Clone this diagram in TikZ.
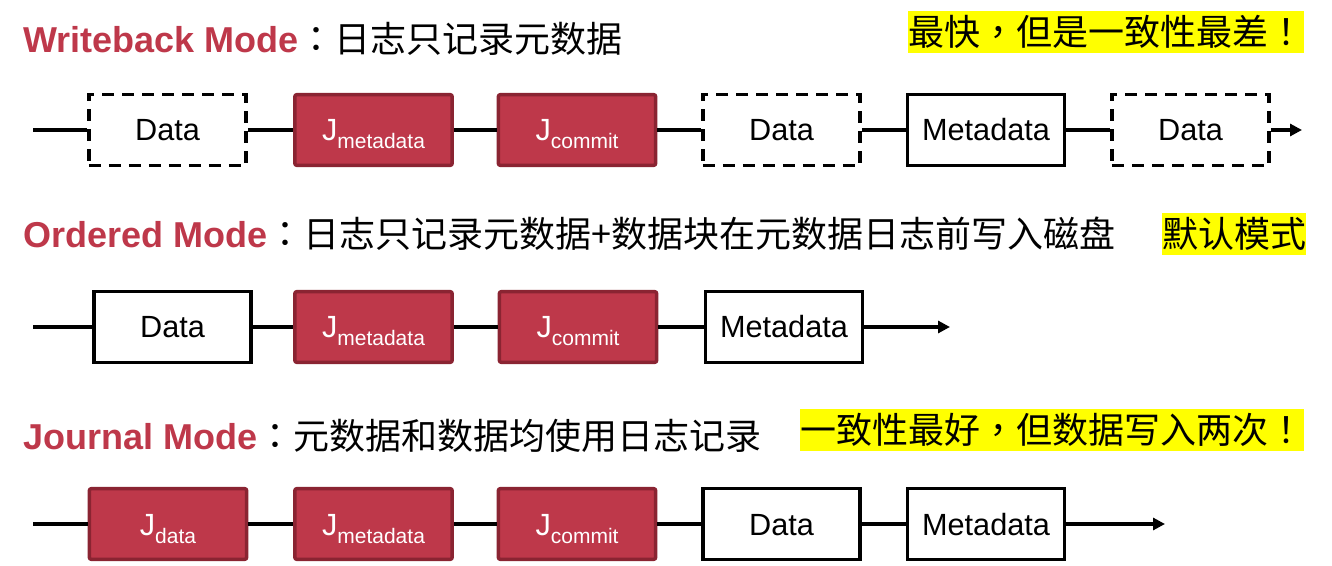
\documentclass[tikz,border=0pt]{standalone}
\usepackage{fontspec}
\setmainfont{Liberation Sans}
\newfontfamily\cjk{Noto Sans CJK SC}
\newfontfamily\cjkp{Noto Sans CJK TC}
\usepackage{tikz}
\usetikzlibrary{arrows, arrows.meta}
\definecolor{jred}{RGB}{190,56,74}
\definecolor{jredline}{RGB}{138,36,50}
\definecolor{hiyel}{RGB}{255,255,0}
\tikzstyle{blk}=[draw, line width=2.6pt, minimum width=118pt, minimum height=53pt, inner sep=0pt, text height=16.5pt, text depth=0pt, font=\fontsize{23}{27}\selectfont]
\tikzstyle{dblk}=[blk, dash pattern=on 9pt off 6pt]
\tikzstyle{jblk}=[blk, draw=jredline, fill=jred, text=white, rounded corners=1.5pt]
\tikzstyle{conn}=[line width=3pt]
\tikzstyle{ttl}=[anchor=base west, inner sep=0pt, font=\fontsize{27}{32}\selectfont]
\tikzstyle{hl}=[fill=hiyel, inner xsep=0pt, inner ysep=0pt, minimum height=32pt, anchor=west, font=\cjk\fontsize{27}{32}\selectfont]
\tikzset{>={Triangle[length=9pt,width=9pt]}}
\newcommand{\jsub}[1]{J\raisebox{-6pt}{\fontsize{15.75}{18}\selectfont #1}}
\newcommand{\modename}[1]{{\color{jred}\bfseries #1}}
\newcommand{\pu}[1]{{\cjkp #1}}

\begin{document}
\begin{tikzpicture}[x=0.75pt, y=-0.75pt]
\useasboundingbox (0,0) rectangle (1332,566);
% writeback
\node[ttl] (wt) at (23,53) {\modename{Writeback Mode}{\cjk \pu{：}日志只记录元数据}};
\node[hl] (wh) at (908,32) {最快\pu{，}但是一致性最差\pu{！}};
\node[dblk] (wd1) at (167.5,130) {Data};
\node[jblk] (wjm) at (373.5,130) {\jsub{metadata}};
\node[jblk] (wjc) at (577,130) {\jsub{commit}};
\node[dblk] (wd2) at (781.5,130) {Data};
\node[blk] (wm) at (986,130) {Metadata};
\node[dblk] (wd3) at (1190.5,130) {Data};
\coordinate (ws) at (33,130);
\coordinate (we) at (1302,130);
\draw[conn] (ws) -- (wd1) -- (wjm) -- (wjc) -- (wd2) -- (wm) -- (wd3);
\draw[conn, ->] (wd3) -- (we);
% ordered
\node[ttl] (ot) at (23,248) {\modename{Ordered Mode}{\cjk \pu{：}日志只记录元数据+数据块在元数据日志前写入磁盘}};
\node[hl] (oh) at (1162,234) {默认模式};
\node[blk] (od) at (172.5,327) {Data};
\node[jblk] (ojm) at (373.5,327) {\jsub{metadata}};
\node[jblk] (ojc) at (578,327) {\jsub{commit}};
\node[blk] (om) at (784,327) {Metadata};
\coordinate (os) at (33,327);
\coordinate (oe) at (950,327);
\draw[conn] (os) -- (od) -- (ojm) -- (ojc) -- (om);
\draw[conn, ->] (om) -- (oe);
% journal
\node[ttl] (jt) at (23,450) {\modename{Journal Mode}{\cjk \pu{：}元数据和数据均使用日志记录}};
\node[hl] (jh) at (800,430) {一致性最好\pu{，}但数据写入两次\pu{！}};
\node[jblk] (jjd) at (168,524) {\jsub{data}};
\node[jblk] (jjm) at (373.5,524) {\jsub{metadata}};
\node[jblk] (jjc) at (577,524) {\jsub{commit}};
\node[blk] (jd) at (781.5,524) {Data};
\node[blk] (jm) at (986,524) {Metadata};
\coordinate (js) at (33,524);
\coordinate (je) at (1165,524);
\draw[conn] (js) -- (jjd) -- (jjm) -- (jjc) -- (jd) -- (jm);
\draw[conn, ->] (jm) -- (je);
\end{tikzpicture}
\end{document}
